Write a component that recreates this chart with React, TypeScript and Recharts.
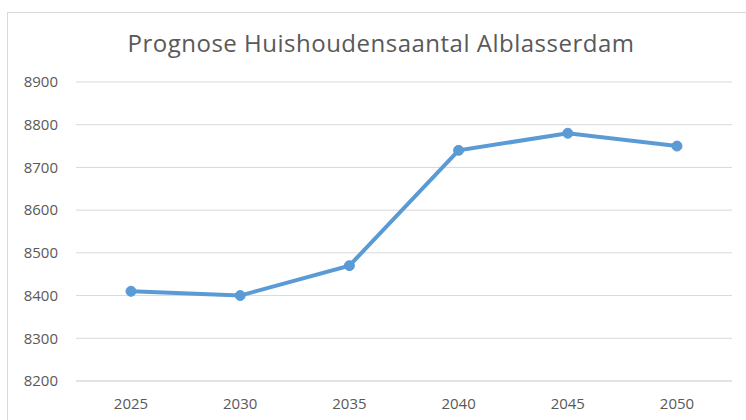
import React from "react"
import { LineChart, Line, XAxis, YAxis, CartesianGrid } from "recharts"

const years = ["2025", "2030", "2035", "2040", "2045", "2050"]
const households = [8410, 8400, 8470, 8740, 8780, 8750]
const yTicks = [8200, 8300, 8400, 8500, 8600, 8700, 8800, 8900]

const chartData = years.map((year, i) => ({ year, value: households[i] }))

const font = "'Open Sans', 'Liberation Sans', sans-serif"

export default function App() {
  return (
    <div style={{ position: "absolute", left: 0, top: 0, width: 746, height: 420, overflow: "hidden", background: "#fff", fontFamily: font }}>
      <div style={{ position: "absolute", left: 7, top: 12, width: 800, height: 500, border: "1px solid #d9d9d9" }} />
      <div style={{ position: "absolute", left: 0, top: 26, width: 762, textAlign: "center", fontSize: 24, letterSpacing: 0.5, color: "#595959" }}>
        Prognose Huishoudensaantal Alblasserdam
      </div>
      <LineChart
        width={746}
        height={420}
        data={chartData}
        margin={{ top: 82, right: 14, left: 0, bottom: 0 }}
        style={{ position: "absolute", left: 0, top: 0 }}
      >
        <CartesianGrid vertical={false} stroke="#d9d9d9" strokeWidth={1} />
        <XAxis
          dataKey="year"
          height={39}
          padding={{ left: 55, right: 55 }}
          axisLine={{ stroke: "#d9d9d9" }}
          tickLine={false}
          tickMargin={11}
          tick={{ fill: "#595959", fontSize: 15, fontFamily: font }}
        />
        <YAxis
          width={76}
          domain={[8200, 8900]}
          ticks={yTicks}
          axisLine={false}
          tickLine={false}
          tickMargin={12}
          tick={{ fill: "#595959", fontSize: 15, fontFamily: font }}
        />
        <Line
          type="linear"
          dataKey="value"
          stroke="#5b9bd5"
          strokeWidth={4}
          dot={{ r: 5, fill: "#5b9bd5", stroke: "#5b9bd5", strokeWidth: 1 }}
          isAnimationActive={false}
        />
      </LineChart>
    </div>
  )
}
